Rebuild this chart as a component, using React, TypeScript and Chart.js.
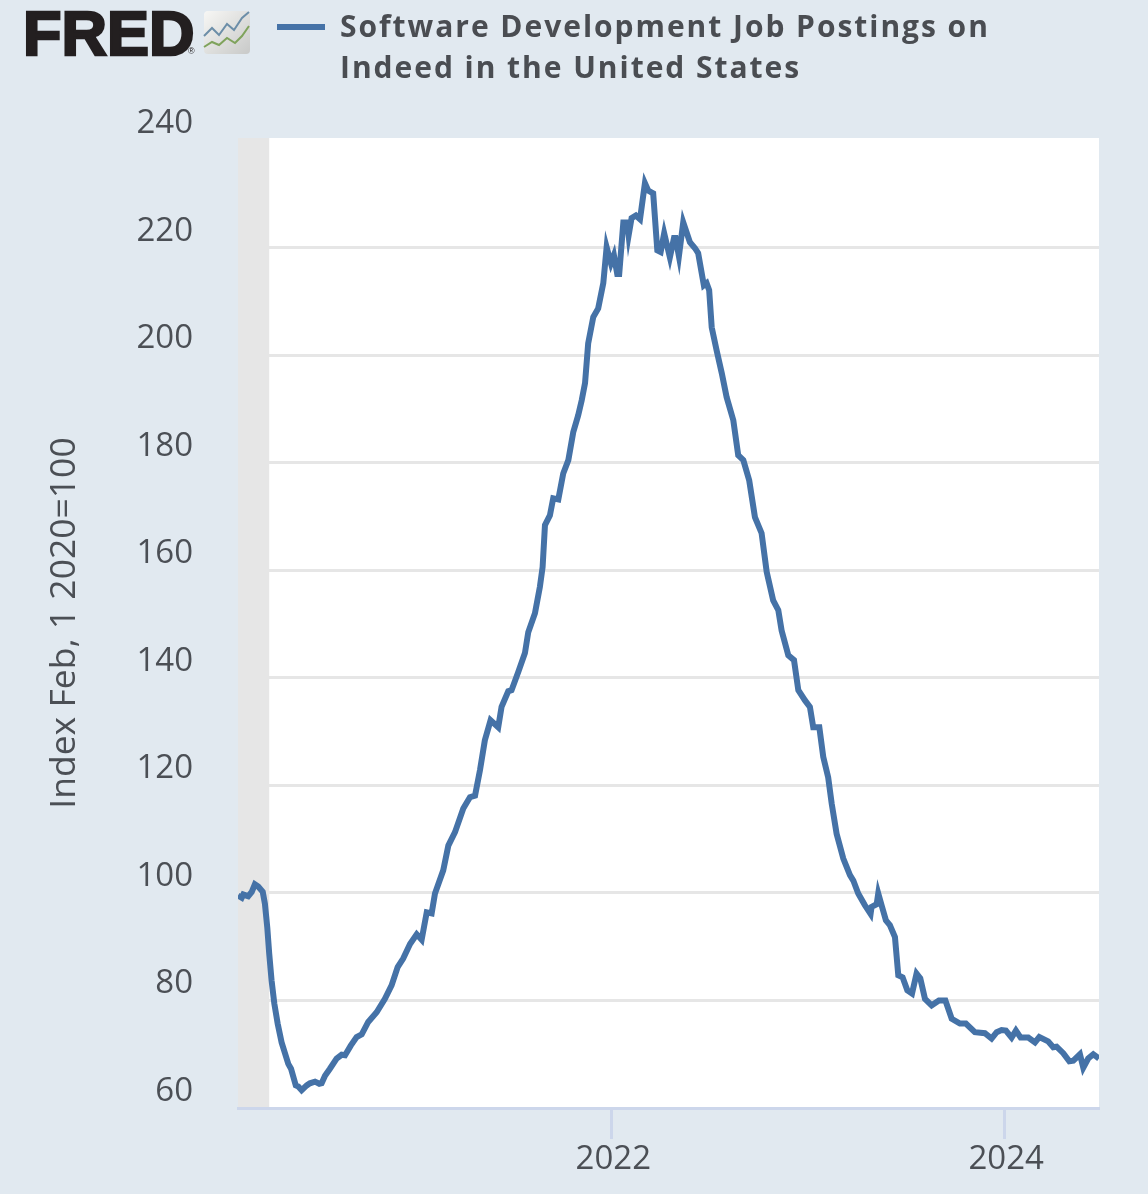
import React, { useEffect, useRef } from "react";
import { Chart, registerables } from "chart.js";

Chart.register(...registerables);

const titleLines = ["Software Development Job Postings on", "Indeed in the United States"];
const yAxisTitle = "Index Feb, 1 2020=100";
const seriesName = "Software Development Job Postings on Indeed in the United States";
const xTickYears = [2022, 2024];
const yTickValues = [60, 80, 100, 120, 140, 160, 180, 200, 220, 240];
const recession = [2020.099, 2020.258];

const dates = [
  2020.099, 2020.118, 2020.126, 2020.151, 2020.169, 2020.185, 2020.202, 2020.225, 2020.236, 2020.248,
  2020.258, 2020.270, 2020.284, 2020.301, 2020.321, 2020.355, 2020.369, 2020.393, 2020.406, 2020.423,
  2020.449, 2020.465, 2020.491, 2020.513, 2020.525, 2020.542, 2020.567, 2020.601, 2020.627, 2020.644,
  2020.673, 2020.703, 2020.729, 2020.762, 2020.805, 2020.847, 2020.881, 2020.912, 2020.940, 2020.975,
  2021.009, 2021.034, 2021.060, 2021.085, 2021.102, 2021.144, 2021.170, 2021.204, 2021.246, 2021.280,
  2021.306, 2021.331, 2021.356, 2021.385, 2021.424, 2021.441, 2021.475, 2021.492, 2021.526, 2021.560,
  2021.577, 2021.611, 2021.636, 2021.650, 2021.662, 2021.687, 2021.704, 2021.730, 2021.755, 2021.781,
  2021.806, 2021.831, 2021.849, 2021.866, 2021.882, 2021.908, 2021.933, 2021.959, 2021.976, 2021.998,
  2022.013, 2022.030, 2022.040, 2022.061, 2022.081, 2022.088, 2022.103, 2022.125, 2022.146, 2022.171,
  2022.188, 2022.213, 2022.234, 2022.251, 2022.269, 2022.298, 2022.319, 2022.327, 2022.344, 2022.366,
  2022.400, 2022.426, 2022.442, 2022.471, 2022.485, 2022.498, 2022.511, 2022.536, 2022.562, 2022.587,
  2022.621, 2022.646, 2022.672, 2022.702, 2022.731, 2022.765, 2022.791, 2022.824, 2022.850, 2022.867,
  2022.901, 2022.930, 2022.952, 2022.986, 2023.011, 2023.028, 2023.059, 2023.079, 2023.104, 2023.122,
  2023.147, 2023.181, 2023.215, 2023.232, 2023.257, 2023.291, 2023.320, 2023.325, 2023.351, 2023.359,
  2023.376, 2023.398, 2023.418, 2023.444, 2023.461, 2023.483, 2023.507, 2023.531, 2023.554, 2023.573,
  2023.597, 2023.631, 2023.668, 2023.701, 2023.733, 2023.775, 2023.805, 2023.851, 2023.902, 2023.936,
  2023.962, 2023.987, 2024.009, 2024.038, 2024.060, 2024.084, 2024.123, 2024.157, 2024.179, 2024.224,
  2024.250, 2024.267, 2024.301, 2024.332, 2024.352, 2024.386, 2024.403, 2024.428, 2024.454, 2024.483,
];

const values = [
  99.5, 99.1, 99.7, 99.4, 100.2, 101.6, 101.2, 100.2, 98.0, 93.6,
  88.7, 83.7, 79.4, 75.7, 72.2, 68.2, 67.3, 64.2, 64.0, 63.3,
  64.2, 64.6, 64.9, 64.5, 64.6, 66.0, 67.3, 69.2, 69.9, 69.8,
  71.6, 73.2, 73.7, 76.0, 77.8, 80.3, 82.8, 86.2, 87.8, 90.5,
  92.3, 91.3, 96.4, 96.2, 99.9, 104.2, 108.8, 111.3, 115.7, 117.8,
  118.1, 122.8, 128.4, 132.1, 130.8, 134.6, 137.5, 137.7, 141.1, 144.6,
  148.5, 152.0, 156.9, 160.6, 168.4, 170.2, 173.4, 173.2, 178.0, 180.5,
  185.7, 188.8, 191.6, 194.8, 202.2, 207.1, 208.7, 213.4, 220.1, 217.1,
  218.6, 215.1, 215.1, 224.7, 224.7, 222.3, 225.5, 226.0, 225.3, 232.0,
  230.6, 230.1, 219.5, 219.2, 222.7, 218.2, 221.8, 221.8, 218.4, 224.7,
  221.0, 219.9, 219.0, 213.0, 213.4, 212.1, 205.2, 200.9, 196.7, 192.2,
  187.9, 181.4, 180.5, 176.7, 169.9, 166.9, 159.7, 154.4, 152.6, 148.8,
  144.2, 143.3, 137.7, 135.8, 134.6, 130.8, 130.8, 125.3, 121.5, 116.6,
  111.0, 106.4, 103.3, 102.3, 99.9, 97.7, 96.1, 97.4, 97.9, 99.9,
  97.7, 94.9, 94.0, 91.8, 84.7, 84.3, 81.9, 81.3, 85.0, 84.1,
  80.3, 79.1, 80.0, 80.0, 76.6, 75.7, 75.7, 74.1, 73.9, 72.9,
  74.1, 74.5, 74.4, 73.1, 74.4, 73.1, 73.1, 72.2, 73.2, 72.4,
  71.3, 71.4, 70.2, 68.7, 68.8, 70.0, 67.5, 69.2, 70.0, 69.2,
];

const FONT = '"Open Sans", sans-serif';
const PAGE_BG = "#e1e9f0";
const TEXT = "#4b4f55";
const LINE = "#4572a7";
const AXIS = "#ccd6eb";
const GRID = "#e6e6e6";

const plotBackground = {
  id: "plotBackground",
  beforeDraw(chart: any) {
    const { ctx, chartArea: a, scales } = chart;
    ctx.save();
    ctx.fillStyle = "#ffffff";
    ctx.fillRect(a.left, a.top, a.right - a.left, a.bottom - a.top);
    const x0 = scales.x.getPixelForValue(recession[0]);
    const x1 = scales.x.getPixelForValue(recession[1]);
    ctx.fillStyle = GRID;
    ctx.fillRect(x0, a.top, x1 - x0, a.bottom - a.top);
    ctx.restore();
  },
};

export default function App() {
  const ref = useRef<HTMLCanvasElement>(null);

  useEffect(() => {
    document.body.style.margin = "0";
    document.body.style.background = PAGE_BG;
    const chart = new Chart(ref.current as HTMLCanvasElement, {
      type: "line",
      data: {
        datasets: [
          {
            label: seriesName,
            data: dates.map((d, i) => ({ x: d, y: values[i] })),
            borderColor: LINE,
            borderWidth: 6,
            pointRadius: 0,
            tension: 0,
            fill: false,
          },
        ],
      },
      options: {
        responsive: false,
        animation: false,
        devicePixelRatio: 1,
        layout: { padding: { top: 138, right: 49, left: 0, bottom: 0 } },
        plugins: { legend: { display: false }, title: { display: false }, tooltip: { enabled: false } },
        scales: {
          x: {
            type: "linear",
            min: 2020.099,
            max: 2024.483,
            afterFit: (s: any) => {
              s.height = 86;
            },
            afterBuildTicks: (s: any) => {
              s.ticks = xTickYears.map((value) => ({ value }));
            },
            grid: {
              drawOnChartArea: false,
              drawTicks: true,
              tickLength: 31,
              tickWidth: 3,
              tickColor: AXIS,
            },
            border: { display: true, color: AXIS, width: 3 },
            ticks: {
              autoSkip: false,
              maxRotation: 0,
              padding: 1,
              labelOffset: 2,
              color: TEXT,
              font: { family: FONT, size: 33 },
              callback: (v: any) => String(v),
            },
          },
          y: {
            type: "linear",
            min: 60,
            max: 240.4,
            afterFit: (s: any) => {
              s.width = 238;
            },
            afterBuildTicks: (s: any) => {
              s.ticks = yTickValues.map((value) => ({ value }));
            },
            grid: {
              drawTicks: false,
              lineWidth: 3,
              color: (c: any) => (c.tick && (c.tick.value === 60 || c.tick.value === 240) ? "rgba(0,0,0,0)" : GRID),
            },
            border: { display: false },
            title: {
              display: true,
              text: yAxisTitle,
              color: TEXT,
              font: { family: FONT, size: 35.5, weight: "normal" },
              padding: { top: 44, bottom: 0 },
            },
            ticks: {
              autoSkip: false,
              padding: 45,
              labelOffset: -16.5,
              color: TEXT,
              font: { family: FONT, size: 33 },
              callback: (v: any) => String(v),
            },
          },
        },
      },
      plugins: [plotBackground],
    } as any);
    return () => chart.destroy();
  }, []);

  return (
    <div style={{ position: "absolute", left: 0, top: 0, width: 1148, height: 1194, background: PAGE_BG, overflow: "hidden" }}>
      <canvas ref={ref} width={1148} height={1194} style={{ display: "block", width: 1148, height: 1194 }} />
      <div
        style={{
          position: "absolute",
          left: 23,
          top: -3,
          fontFamily: '"Liberation Sans", Arial, sans-serif',
          fontWeight: 700,
          fontSize: 63,
          lineHeight: "72px",
          color: "#231f20",
          WebkitTextStroke: "2.5px #231f20",
        }}
      >
        FRED
      </div>
      <div
        style={{
          position: "absolute",
          left: 188,
          top: 45,
          fontFamily: '"Liberation Sans", Arial, sans-serif',
          fontSize: 9,
          lineHeight: "12px",
          color: "#231f20",
        }}
      >
        ®
      </div>
      <svg style={{ position: "absolute", left: 203, top: 10 }} width={48} height={45} viewBox="0 0 48 45">
        <defs>
          <linearGradient id="icon" x1="0" y1="0" x2="1" y2="1">
            <stop offset="0" stopColor="#f7f7f5" />
            <stop offset="1" stopColor="#c8c9c8" />
          </linearGradient>
        </defs>
        <rect x="1" y="1" width="46" height="43" rx="4" fill="url(#icon)" />
        <polyline points="1,26 9,18 16,25 24,14 31,20 39,8 46,2" fill="none" stroke="#6c8ea8" strokeWidth="2" />
        <polyline points="1,37 9,32 16,35 24,28 32,33 39,26 46,16" fill="none" stroke="#7fa35c" strokeWidth="2" />
      </svg>
      <div style={{ position: "absolute", left: 277, top: 24, width: 48, height: 6, background: LINE }} />
      <div
        style={{
          position: "absolute",
          left: 340,
          top: 5,
          fontFamily: FONT,
          fontWeight: 700,
          fontSize: 30,
          lineHeight: "41px",
          letterSpacing: "1.96px",
          color: "#4a4d52",
          whiteSpace: "nowrap",
        }}
      >
        {titleLines.map((t) => (
          <div key={t}>{t}</div>
        ))}
      </div>
    </div>
  );
}
